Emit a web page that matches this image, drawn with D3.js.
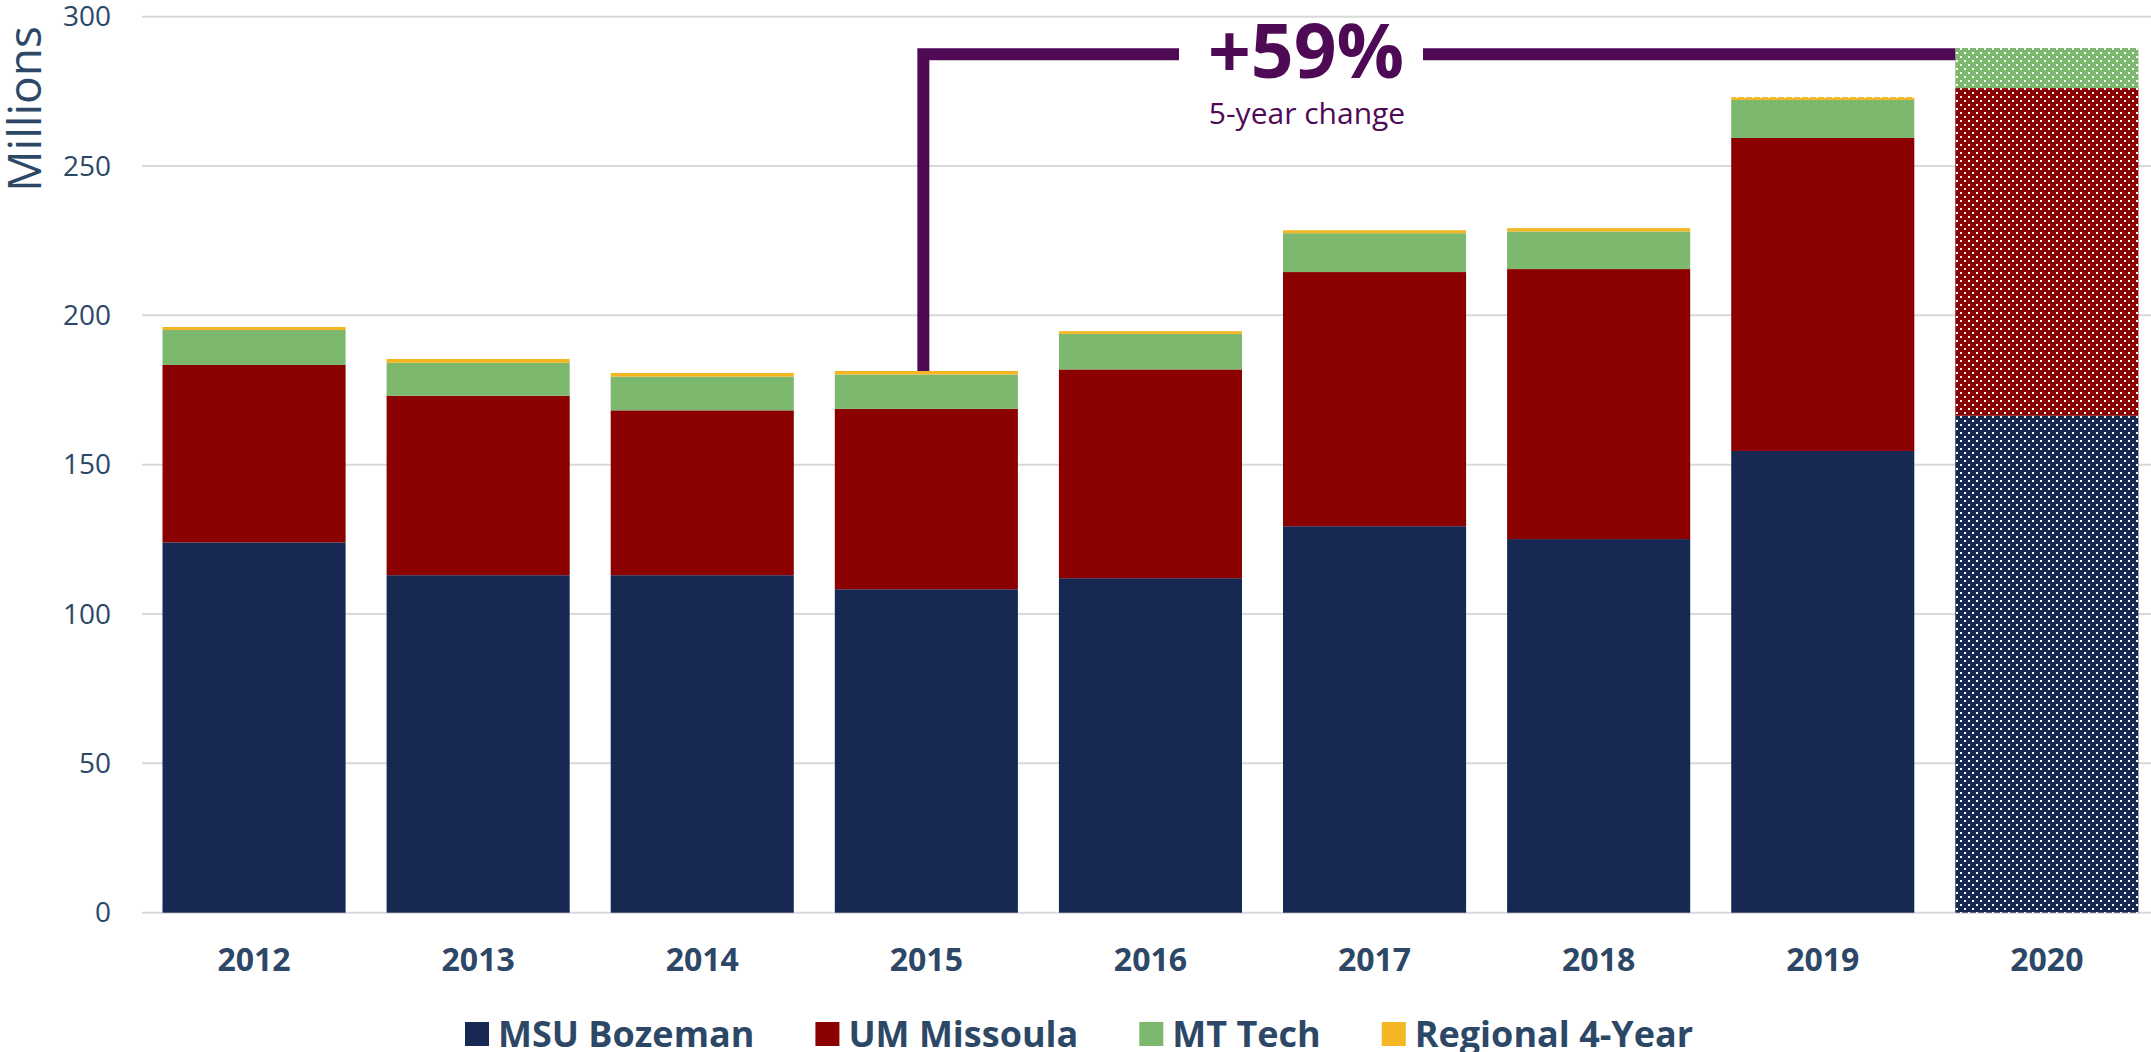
<!DOCTYPE html>
<html>
<head>
<meta charset="utf-8">
<script src="https://cdn.jsdelivr.net/npm/d3@7"></script>
<style>
  body { margin: 0; background: #fff; }
  svg { display: block; font-family: "Open Sans", sans-serif; }
</style>
</head>
<body>
<svg id="chart"></svg>
<script>
const years = ["2012", "2013", "2014", "2015", "2016", "2017", "2018", "2019", "2020"];
const seriesNames = ["MSU Bozeman", "UM Missoula", "MT Tech", "Regional 4-Year"];
const msuBozeman = [124.0, 113.0, 113.0, 108.3, 112.0, 129.4, 125.1, 154.6, 166.4];
const umMissoula = [59.4, 60.1, 55.2, 60.4, 69.9, 85.1, 90.4, 104.8, 109.7];
const mtTech = [11.7, 11.0, 11.3, 11.5, 11.9, 13.0, 12.6, 12.7, 13.4];
const regional4Year = [1.0, 1.3, 1.2, 1.2, 0.9, 1.0, 1.1, 1.0, 0];
const yTicks = [0, 50, 100, 150, 200, 250, 300];
// dotted (projected) cells
const projectedYears = ["2020"];
const projectedCells = [["2019", "Regional 4-Year"]];
const changeLabel = "+59%";
const changeSub = "5-year change";
const changeFrom = "2015", changeTo = "2020";

const colors = {
    "MSU Bozeman": "#172853",
    "UM Missoula": "#8b0000",
    "MT Tech": "#7cb86e",
    "Regional 4-Year": "#f4b623"
};
const textColor = "#2c4866";
const purple = "#4f0a56";

const W = 2151, H = 1052;
const svg = d3.select("#chart").attr("width", W).attr("height", H);

const table = years.map((y, i) => ({
    year: y,
    "MSU Bozeman": msuBozeman[i],
    "UM Missoula": umMissoula[i],
    "MT Tech": mtTech[i],
    "Regional 4-Year": regional4Year[i]
}));
const stacked = d3.stack().keys(seriesNames)(table);

const x = d3.scaleBand()
    .domain(years)
    .range([142, 142 + 9 * 224.1])
    .paddingInner(0.183)
    .paddingOuter(0.0915);

const y = d3.scaleLinear()
    .domain([0, 300])
    .range([912.7, 16.7]);

// patterns for dotted bars
const defs = svg.append("defs");
seriesNames.forEach((s, i) => {
    const p = defs.append("pattern")
        .attr("id", "dots" + i)
        .attr("patternUnits", "userSpaceOnUse")
        .attr("width", 8).attr("height", 8);
    p.append("rect").attr("width", 8).attr("height", 8).attr("fill", colors[s]);
    p.append("rect").attr("x", 0).attr("y", 0).attr("width", 2).attr("height", 2).attr("fill", "#fff");
    p.append("rect").attr("x", 4).attr("y", 4).attr("width", 2).attr("height", 2).attr("fill", "#fff");
});

// gridlines
svg.append("g")
    .selectAll("line")
    .data(yTicks)
    .join("line")
    .attr("x1", 142).attr("x2", W)
    .attr("y1", d => y(d)).attr("y2", d => y(d))
    .attr("stroke", "#d9d9d9")
    .attr("stroke-width", 2);

// y axis
const yAxis = svg.append("g")
    .attr("transform", "translate(142,0)")
    .call(d3.axisLeft(y).tickValues(yTicks).tickSize(0).tickPadding(31));
yAxis.select(".domain").remove();
yAxis.selectAll("text")
    .attr("fill", textColor)
    .style("font-size", "28px")
    .style("font-family", "'Open Sans', sans-serif");

svg.append("text")
    .attr("transform", "translate(41,109) rotate(-90)")
    .attr("text-anchor", "middle")
    .attr("fill", textColor)
    .style("font-size", "46px")
    .text("Millions");

// bars
const isDotted = (year, key) =>
    projectedYears.includes(year) || projectedCells.some(c => c[0] === year && c[1] === key);

svg.append("g")
    .selectAll("g")
    .data(stacked)
    .join("g")
    .each(function(layer, li) {
        d3.select(this).selectAll("rect")
            .data(layer)
            .join("rect")
            .attr("x", d => x(d.data.year))
            .attr("width", x.bandwidth())
            .attr("y", d => y(d[1]))
            .attr("height", d => y(d[0]) - y(d[1]))
            .attr("fill", d => isDotted(d.data.year, layer.key) ? `url(#dots${li})` : colors[layer.key]);
    });

// x axis labels
const xAxis = svg.append("g")
    .attr("transform", "translate(0,912.7)")
    .call(d3.axisBottom(x).tickSize(0).tickPadding(36));
xAxis.select(".domain").remove();
xAxis.selectAll("text")
    .attr("fill", textColor)
    .style("font-size", "32px")
    .style("font-weight", "bold")
    .style("font-family", "'Open Sans', sans-serif");

// 5-year change annotation
const totalOf = yr => stacked[stacked.length - 1][years.indexOf(yr)][1];
const lineY = y(287.4);
const xFrom = x(changeFrom) + x.bandwidth() / 2 - 3;
const xTo = x(changeTo);
const labelX = 1306;
svg.append("path")
    .attr("d", `M${xFrom},${y(totalOf(changeFrom))}V${lineY}H${labelX - 127}`)
    .attr("fill", "none")
    .attr("stroke", purple)
    .attr("stroke-width", 12);
svg.append("path")
    .attr("d", `M${labelX + 117},${lineY}H${xTo}`)
    .attr("fill", "none")
    .attr("stroke", purple)
    .attr("stroke-width", 12);
svg.append("text")
    .attr("x", labelX).attr("y", 78)
    .attr("text-anchor", "middle")
    .attr("fill", purple)
    .style("font-size", "75px")
    .style("font-weight", "bold")
    .text(changeLabel);
svg.append("text")
    .attr("x", labelX + 1).attr("y", 124)
    .attr("text-anchor", "middle")
    .attr("fill", purple)
    .style("font-size", "30px")
    .text(changeSub);

// legend
const legend = svg.append("g").attr("transform", "translate(465,0)");
let lx = 0;
seriesNames.forEach(s => {
    legend.append("rect")
        .attr("x", lx).attr("y", 1022)
        .attr("width", 24).attr("height", 24)
        .attr("fill", colors[s]);
    const t = legend.append("text")
        .attr("x", lx + 33).attr("y", 1047)
        .attr("fill", textColor)
        .style("font-size", "36px")
        .style("font-weight", "bold")
        .text(s);
    lx += 33 + t.node().getComputedTextLength() + 61;
});
</script>
</body>
</html>
